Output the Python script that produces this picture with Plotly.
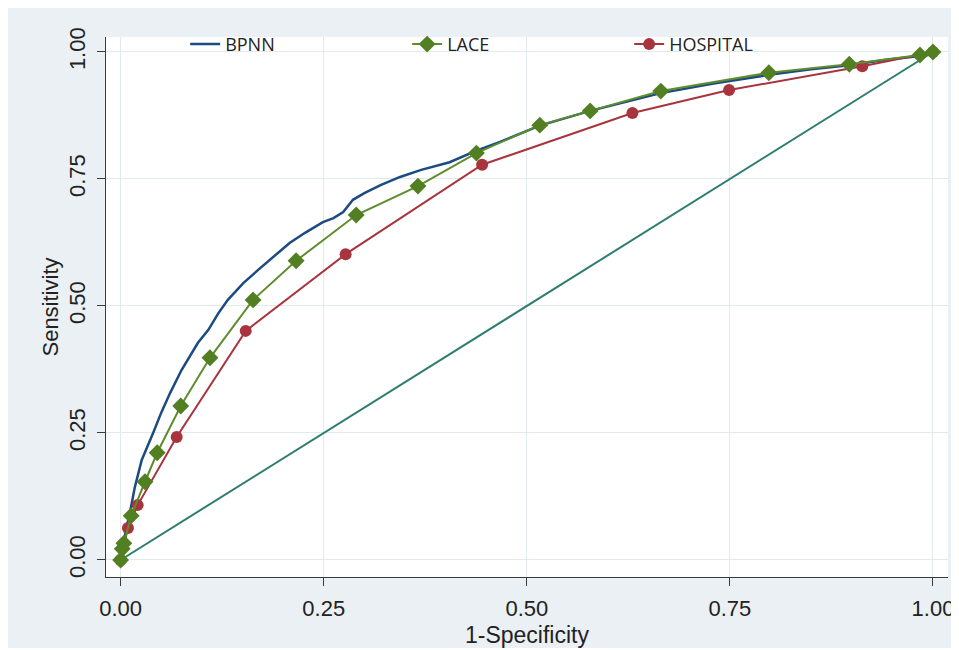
import plotly.graph_objects as go

# ---- data ----
bpnn_x = [0.0, 0.002, 0.004, 0.007, 0.0114, 0.0176, 0.026, 0.033, 0.040, 0.050, 0.061, 0.075,
          0.085, 0.095, 0.108, 0.120, 0.132, 0.151, 0.170, 0.190, 0.208, 0.228, 0.249, 0.262,
          0.274, 0.286, 0.300, 0.320, 0.344, 0.370, 0.405, 0.438, 0.467, 0.516, 0.578, 0.665,
          0.730, 0.798, 0.850, 0.897, 0.940, 0.984, 1.0]
bpnn_y = [0.0, 0.018, 0.036, 0.062, 0.093, 0.144, 0.197, 0.222, 0.250, 0.290, 0.329, 0.374,
          0.400, 0.427, 0.453, 0.485, 0.512, 0.545, 0.572, 0.600, 0.624, 0.645, 0.665, 0.673,
          0.685, 0.709, 0.722, 0.738, 0.754, 0.768, 0.783, 0.806, 0.823, 0.855, 0.884, 0.919,
          0.938, 0.955, 0.966, 0.974, 0.984, 0.992, 1.0]

lace_x = [0.0, 0.002, 0.004, 0.013, 0.030, 0.045, 0.074, 0.110, 0.163, 0.216, 0.290, 0.366,
          0.438, 0.516, 0.578, 0.665, 0.798, 0.897, 0.984, 1.0]
lace_y = [0.0, 0.022, 0.033, 0.087, 0.154, 0.211, 0.303, 0.398, 0.512, 0.589, 0.679, 0.736,
          0.801, 0.856, 0.884, 0.923, 0.959, 0.976, 0.994, 1.0]

hosp_x = [0.0, 0.009, 0.021, 0.069, 0.154, 0.277, 0.445, 0.630, 0.749, 0.913, 1.0]
hosp_y = [0.0, 0.063, 0.108, 0.242, 0.451, 0.602, 0.778, 0.880, 0.925, 0.972, 1.0]

ref_x = [0.0, 1.0]
ref_y = [0.0, 1.0]

tick_vals = [0.0, 0.25, 0.5, 0.75, 1.0]
tick_text = ["0.00", "0.25", "0.50", "0.75", "1.00"]

BG = "#EAF0F3"
GRID = "#E3EAEE"
FONT = "Liberation Sans, Arial"

fig = go.Figure()
fig.add_trace(go.Scatter(x=ref_x, y=ref_y, mode="lines", showlegend=False,
                         line=dict(color="#2E7D70", width=2)))
fig.add_trace(go.Scatter(x=bpnn_x, y=bpnn_y, mode="lines", name="BPNN", legendrank=1,
                         line=dict(color="#1B4B80", width=2.5)))
fig.add_trace(go.Scatter(x=hosp_x, y=hosp_y, mode="lines+markers", name="HOSPITAL", legendrank=3,
                         line=dict(color="#A8343E", width=2),
                         marker=dict(symbol="circle", size=12, color="#A8343E")))
fig.add_trace(go.Scatter(x=lace_x, y=lace_y, mode="lines+markers", name="LACE", legendrank=2,
                         line=dict(color="#5E8C2E", width=2),
                         marker=dict(symbol="diamond", size=13, color="#527F22")))

axis_common = dict(
    tickvals=tick_vals, ticktext=tick_text, automargin=False,
    showgrid=True, gridcolor=GRID, gridwidth=1,
    zeroline=False, showline=True, linecolor="#3A3A3A", linewidth=1.2,
    ticks="outside", ticklen=8, tickcolor="#3A3A3A", tickwidth=1.2,
    ticklabelstandoff=3,
    tickfont=dict(family=FONT, size=22, color="#222222"),
)

fig.update_layout(
    width=951, height=640,
    paper_bgcolor=BG, plot_bgcolor="white",
    margin=dict(l=98, r=11, t=29, b=71, autoexpand=False),
    xaxis=dict(range=[-0.018, 1.0185], title=dict(text="1-Specificity", standoff=8,
               font=dict(family=FONT, size=23, color="#222222")),
               **axis_common),
    yaxis=dict(range=[-0.0335, 1.0295], tickangle=-90, title=dict(text="Sensitivity", standoff=0,
               font=dict(family=FONT, size=22, color="#222222")),
               **axis_common),
    legend=dict(orientation="h", x=0.094, y=0.972, xref="paper", yref="container",
                xanchor="left", yanchor="top",
                bgcolor="rgba(0,0,0,0)", entrywidth=177, entrywidthmode="pixels",
                font=dict(family="Open Sans", size=18, color="#222222")),
)

fig.write_html("out.html")
